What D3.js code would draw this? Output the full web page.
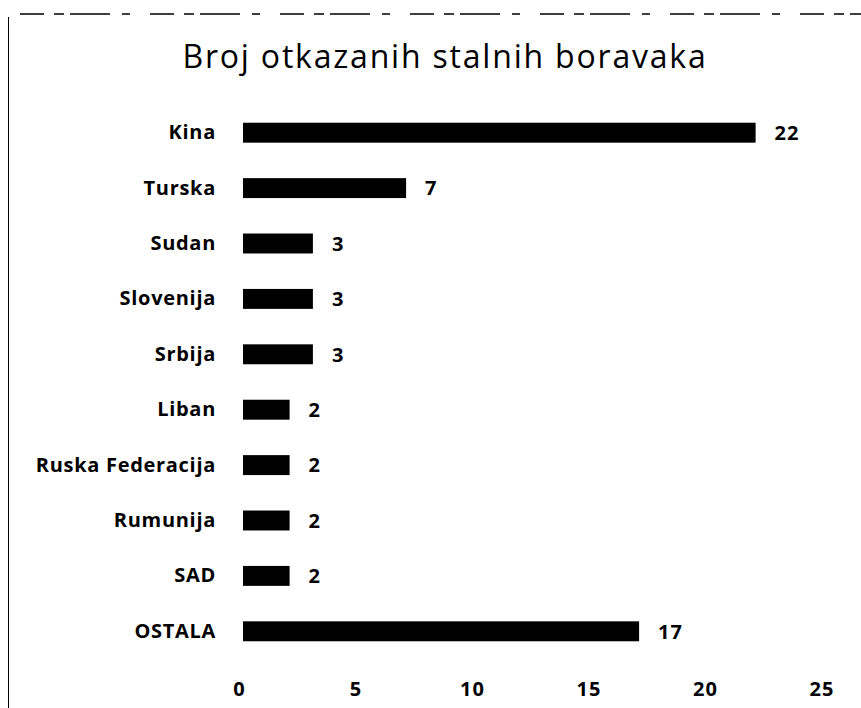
<!DOCTYPE html>
<html>
<head>
<meta charset="utf-8">
<script src="https://cdn.jsdelivr.net/npm/d3@7"></script>
<style>
body { margin: 0; background: #fff; }
text { font-family: "Open Sans", sans-serif; }
</style>
</head>
<body>
<div id="chart"></div>
<script>
var categories = ["Kina", "Turska", "Sudan", "Slovenija", "Srbija", "Liban", "Ruska Federacija", "Rumunija", "SAD", "OSTALA"];
var values = [22, 7, 3, 3, 3, 2, 2, 2, 2, 17];
var xTicks = [0, 5, 10, 15, 20, 25];
var title = "Broj otkazanih stalnih boravaka";

var W = 861, H = 708;
var margin = {top: 105, left: 243};

var svg = d3.select("#chart").append("svg")
  .attr("width", W)
  .attr("height", H);

// scan frame
svg.append("line")
  .attr("x1", 20).attr("x2", W).attr("y1", 14).attr("y2", 14)
  .attr("stroke", "#000").attr("stroke-width", 1.5)
  .attr("stroke-dasharray", "24,10,10,6,40,12,8,20");
svg.append("line")
  .attr("x1", 8.5).attr("x2", 8.5).attr("y1", 17).attr("y2", H)
  .attr("stroke", "#000").attr("stroke-width", 1);

svg.append("text")
  .attr("x", 445).attr("y", 68)
  .attr("text-anchor", "middle")
  .style("font-size", "32px")
  .style("letter-spacing", "1.8px")
  .text(title);

var g = svg.append("g")
  .attr("transform", "translate(" + margin.left + "," + margin.top + ")");

var x = d3.scaleLinear().domain([0, 25]).range([0, 25 * 23.3]);
var y = d3.scaleBand().domain(categories).range([0, 554]).paddingInner(0.64).paddingOuter(0.32);

g.selectAll("rect.bar")
  .data(categories)
  .enter()
  .append("rect")
    .attr("class", "bar")
    .attr("x", x(0))
    .attr("y", function(d) { return y(d); })
    .attr("width", function(d, i) { return x(values[i]) - x(0); })
    .attr("height", y.bandwidth())
    .attr("fill", "#000");

g.selectAll("text.val")
  .data(categories)
  .enter()
  .append("text")
    .attr("class", "val")
    .attr("x", function(d, i) { return x(values[i]) + 19; })
    .attr("y", function(d) { return y(d) + y.bandwidth() / 2; })
    .attr("dy", "0.36em")
    .style("font-size", "20px")
    .style("font-weight", "bold")
    .style("letter-spacing", "1px")
    .text(function(d, i) { return values[i]; });

var yAxis = g.append("g")
  .attr("transform", "translate(-27,0)")
  .call(d3.axisLeft(y).tickSize(0).tickPadding(0));
yAxis.select(".domain").remove();
yAxis.selectAll("text")
  .style("font-family", "'Open Sans', sans-serif")
  .style("font-size", "20px")
  .style("font-weight", "bold")
  .style("letter-spacing", "0.7px")
  .attr("fill", "#000");

var xAxis = g.append("g")
  .attr("transform", "translate(-4,577)")
  .call(d3.axisBottom(x).tickValues(xTicks).tickSize(0).tickPadding(0));
xAxis.select(".domain").remove();
xAxis.selectAll("text")
  .style("font-family", "'Open Sans', sans-serif")
  .style("font-size", "20px")
  .style("font-weight", "bold")
  .style("letter-spacing", "1px")
  .attr("fill", "#000");
</script>
</body>
</html>
